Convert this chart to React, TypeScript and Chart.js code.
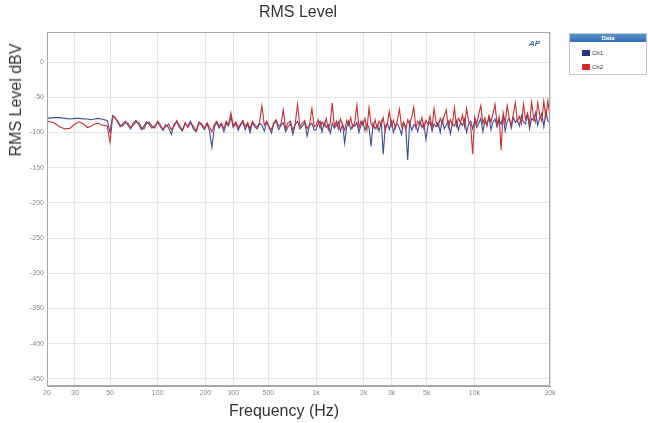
import React, { useEffect, useRef } from "react";
import { Chart, registerables } from "chart.js";

Chart.register(...registerables);

const freqs = [
  20, 22, 24, 26, 28, 30, 32, 34, 36, 38, 40, 42, 44, 46, 48,
  50, 52, 54, 56, 58, 60, 62.5, 65, 67.5, 70, 73, 76, 79, 82, 85, 88, 92, 96, 100, 104, 108, 112, 117, 122, 127, 132,
  137, 143, 149, 155, 161, 168, 175, 182, 190, 197,
  205, 212, 220, 228, 236, 244, 253, 262, 271, 280, 290, 300, 311, 322, 333, 345, 357, 370, 383, 396, 410, 425, 440,
  455, 471, 488, 505, 523, 541, 560, 580, 600, 621, 643, 666, 689, 713, 738, 764, 791, 819, 848, 878, 909, 941, 974,
  1000, 1030, 1060, 1090, 1125, 1160, 1195, 1230, 1265, 1305,
  1345, 1385, 1425, 1470, 1515, 1560, 1605, 1655, 1705, 1755,
  1810, 1865, 1920, 1975, 2035, 2095, 2160, 2225, 2290, 2360,
  2430, 2500, 2580, 2655, 2735, 2820, 2900, 2990, 3080, 3170,
  3270, 3365, 3465, 3570, 3680, 3790, 3900, 4020, 4140, 4265,
  4390, 4525, 4660, 4800, 4940, 5090, 5240, 5400, 5560, 5730,
  5900, 6080, 6260, 6450, 6640, 6840, 7045, 7255, 7475, 7700,
  7930, 8165, 8410, 8665, 8925, 9190, 9465, 9750, 10040, 10340,
  10650, 10970, 11300, 11640, 11990, 12350, 12720, 13100, 13490, 13900,
  14310, 14740, 15180, 15640, 16110, 16590, 17090, 17600, 18130, 18670,
  19230, 19810, 20400, 21010, 21640, 22290, 22960, 23650, 24360, 25090,
  25840, 26620, 27420, 28240, 29090, 30000,
];

const ch1 = [
  -80, -79, -79, -80, -81, -80, -80, -81, -81, -82, -81, -80, -81, -82, -83,
  -100, -76, -79, -86, -92, -88, -84, -90, -95, -87, -83, -89, -96, -91, -85, -88, -94, -90, -86, -92, -97, -89, -93, -103, -88, -85,
  -93, -98, -88, -91, -84, -95, -99, -87, -90, -96,
  -88, -97, -121, -92, -86, -94, -89, -99, -87, -91, -78, -93, -87, -97, -90, -85, -96, -88, -100, -86, -92, -95, -87,
  -90, -98, -85, -93, -101, -88, -84, -96, -90, -86, -99, -92, -87, -103, -89, -84, -95, -91, -86, -105, -90, -87, -97,
  -96, -88, -84, -99, -86, -93, -89, -101, -87, -94,
  -90, -85, -98, -88, -115, -92, -84, -96, -89, -91,
  -86, -100, -90, -84, -97, -88, -93, -120, -87, -95,
  -89, -98, -85, -131, -91, -87, -96, -84, -100, -90,
  -88, -94, -103, -86, -92, -139, -85, -97, -89, -91,
  -99, -84, -93, -87, -110, -90, -85, -98, -88, -92,
  -86, -100, -82, -95, -89, -84, -102, -87, -91, -83,
  -97, -86, -90, -81, -100, -88, -84, -95, -82, -93,
  -87, -80, -99, -84, -89, -78, -96, -85, -81, -92,
  -83, -88, -77, -98, -84, -80, -94, -79, -86, -82,
  -91, -76, -85, -88, -74, -95, -80, -83, -72, -90,
  -79, -73, -92, -70, -84, -86,
];

const ch2 = [
  -84, -86, -92, -95, -94, -88, -85, -88, -93, -91, -88, -87, -89, -90, -91,
  -114, -77, -80, -84, -90, -91, -86, -87, -93, -90, -85, -86, -93, -95, -87, -85, -91, -94, -84, -89, -95, -92, -88, -96, -91, -83,
  -90, -97, -86, -93, -87, -91, -98, -85, -88, -94,
  -86, -92, -99, -88, -84, -91, -87, -95, -84, -89, -72, -91, -85, -93, -88, -83, -92, -86, -95, -84, -89, -93, -85,
  -62, -90, -84, -92, -96, -86, -82, -91, -88, -68, -95, -86, -84, -97, -88, -60, -92, -87, -83, -95, -89, -66, -92,
  -90, -82, -94, -85, -91, -80, -96, -86, -58, -92,
  -84, -95, -81, -89, -97, -83, -90, -79, -93, -86,
  -61, -94, -84, -90, -80, -96, -65, -88, -93, -82,
  -95, -84, -89, -79, -98, -86, -70, -91, -83, -94,
  -81, -67, -92, -85, -96, -82, -89, -78, -64, -93,
  -84, -90, -79, -95, -83, -88, -77, -94, -66, -86,
  -92, -80, -87, -76, -68, -93, -82, -89, -65, -91,
  -80, -86, -75, -92, -66, -84, -90, -131, -78, -88,
  -74, -62, -87, -79, -91, -76, -85, -73, -60, -89,
  -78, -125, -72, -86, -62, -80, -90, -74, -58, -84,
  -77, -88, -60, -81, -73, -89, -57, -79, -86, -58,
  -75, -84, -56, -78, -55, -80,
];

const xTickValues = [20, 30, 50, 100, 200, 300, 500, 1000, 2000, 3000, 5000, 10000, 30000];
const xTickLabels = ["20", "30", "50", "100", "200", "300", "500", "1k", "2k", "3k", "5k", "10k", "30k"];
const yTickValues = [0, -50, -100, -150, -200, -250, -300, -350, -400, -450];

const FONT = "'Liberation Sans', Arial, sans-serif";

export default function App() {
  const canvasRef = useRef<HTMLCanvasElement | null>(null);

  useEffect(() => {
    if (!canvasRef.current) return;
    const borderPlugin = {
      id: "plotBorder",
      afterDraw(chart: any) {
        const { ctx, chartArea } = chart;
        ctx.save();
        ctx.strokeStyle = "#a8a8a8";
        ctx.lineWidth = 1;
        ctx.strokeRect(chartArea.left + 0.5, chartArea.top + 0.5, chartArea.right - chartArea.left - 1, chartArea.bottom - chartArea.top - 1);
        ctx.restore();
      },
    };
    const chart = new Chart(canvasRef.current, {
      type: "line",
      data: {
        datasets: [
          {
            label: "Ch2",
            data: freqs.map((f, i) => ({ x: f, y: ch2[i] })),
            borderColor: "#cc2e2e",
            borderWidth: 1.1,
            pointRadius: 0,
            tension: 0,
            order: 0,
          },
          {
            label: "Ch1",
            data: freqs.map((f, i) => ({ x: f, y: ch1[i] })),
            borderColor: "#3e4c9c",
            borderWidth: 1.1,
            pointRadius: 0,
            tension: 0,
            order: 1,
          },
        ],
      },
      options: {
        animation: false,
        responsive: false,
        maintainAspectRatio: false,
        layout: { padding: { left: 0, right: 98, top: 32, bottom: 0 } },
        plugins: {
          legend: { display: false },
          title: { display: false },
          tooltip: { enabled: false },
        },
        scales: {
          x: {
            type: "logarithmic",
            min: 20,
            max: 30000,
            afterFit: (scale: any) => {
              scale.height = 37;
            },
            afterBuildTicks: (scale: any) => {
              scale.ticks = xTickValues.map((v) => ({ value: v }));
            },
            ticks: {
              autoSkip: false,
              maxRotation: 0,
              minRotation: 0,
              padding: 3,
              color: "#8a8a8a",
              font: { family: FONT, size: 7 },
              callback: (v: any) => {
                const i = xTickValues.indexOf(Number(v));
                return i >= 0 ? xTickLabels[i] : "";
              },
            },
            grid: { drawTicks: false, color: "#e4e4e4" },
            border: { color: "#a8a8a8" },
          },
          y: {
            type: "linear",
            min: -460,
            max: 42.6,
            afterFit: (scale: any) => {
              scale.width = 47;
            },
            afterBuildTicks: (scale: any) => {
              scale.ticks = yTickValues.map((v) => ({ value: v }));
            },
            ticks: {
              padding: 3,
              color: "#8a8a8a",
              font: { family: FONT, size: 7 },
            },
            grid: { drawTicks: false, color: "#e6e6e6" },
            border: { color: "#a8a8a8" },
          },
        },
      },
      plugins: [borderPlugin],
    });
    return () => chart.destroy();
  }, []);

  return (
    <div style={{ position: "absolute", left: 0, top: 0, width: 648, height: 423, background: "#fff", fontFamily: FONT }}>
      <canvas ref={canvasRef} width={648} height={423} style={{ position: "absolute", left: 0, top: 0 }} />
      <div style={{ position: "absolute", left: 198, width: 200, top: 2, textAlign: "center", fontSize: 16, color: "#333", lineHeight: "20px" }}>
        RMS Level
      </div>
      <div
        style={{
          position: "absolute",
          left: 16,
          top: 100,
          transform: "translate(-50%, -50%) rotate(-90deg)",
          whiteSpace: "nowrap",
          fontSize: 16,
          color: "#333",
          lineHeight: "20px",
        }}
      >
        RMS Level dBV
      </div>
      <div style={{ position: "absolute", left: 184, width: 200, top: 401, textAlign: "center", fontSize: 16, color: "#333", lineHeight: "20px" }}>
        Frequency (Hz)
      </div>
      <div style={{ position: "absolute", left: 529, top: 39, fontSize: 8, fontStyle: "italic", fontWeight: "bold", color: "#3a6fb0" }}>AP</div>
      <div style={{ position: "absolute", left: 569, top: 33, width: 78, height: 42, border: "1px solid #c8c8c8", boxSizing: "border-box", background: "#fff" }}>
        <div style={{ height: 8, background: "linear-gradient(#5b93d0, #2f6cb3)", color: "#fff", fontSize: 6, fontWeight: "bold", textAlign: "center", lineHeight: "8px" }}>
          Data
        </div>
        <div style={{ position: "absolute", left: 12, top: 16, width: 8, height: 6, background: "#2a3582" }} />
        <div style={{ position: "absolute", left: 22, top: 14, fontSize: 6, color: "#333", lineHeight: "10px" }}>Ch1</div>
        <div style={{ position: "absolute", left: 12, top: 30, width: 8, height: 6, background: "#d02b2b" }} />
        <div style={{ position: "absolute", left: 22, top: 28, fontSize: 6, color: "#333", lineHeight: "10px" }}>Ch2</div>
      </div>
    </div>
  );
}
